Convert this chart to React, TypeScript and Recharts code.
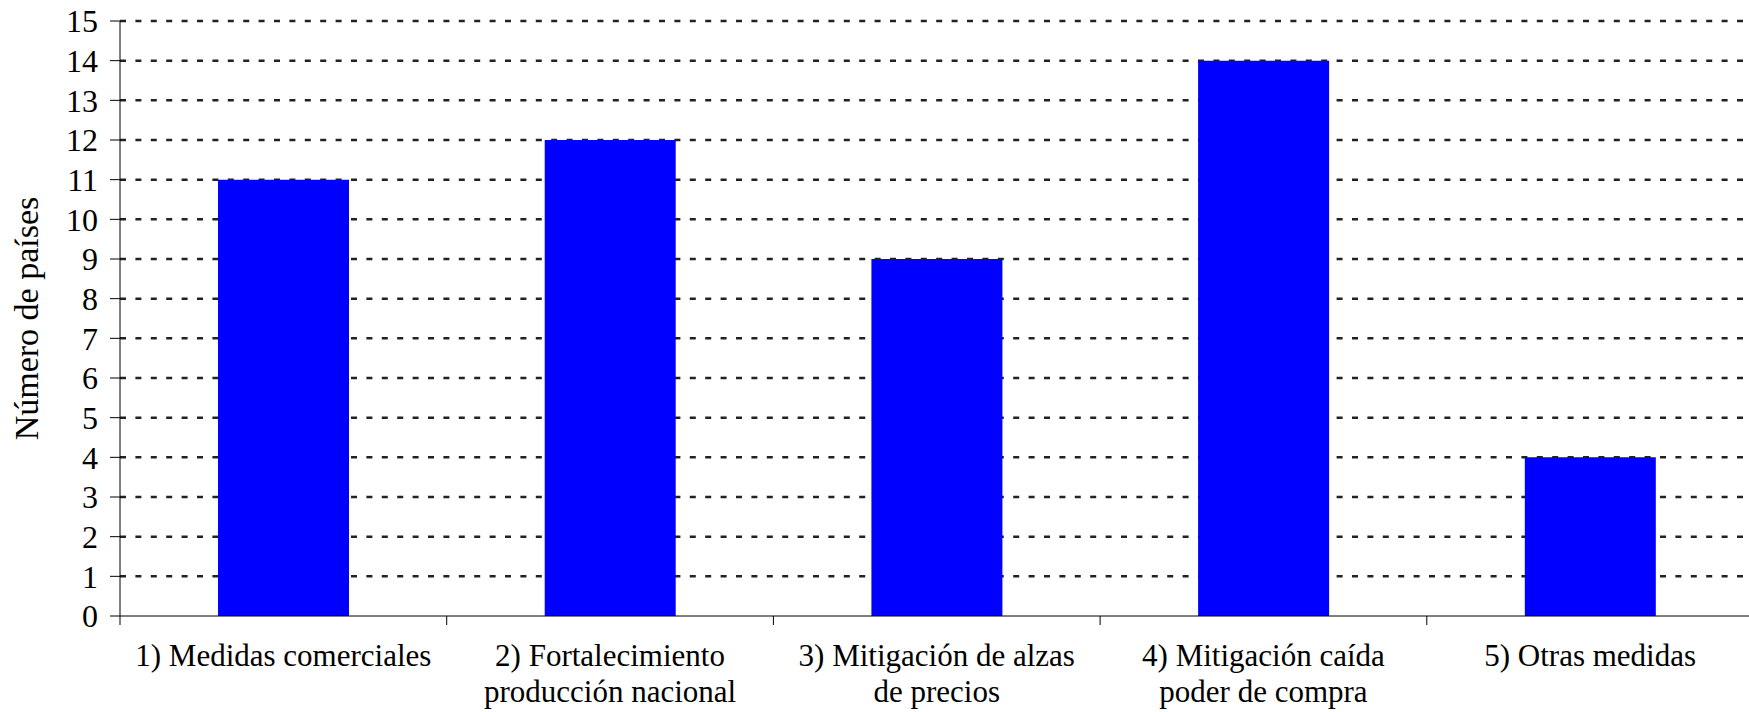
import { BarChart, Bar, XAxis, YAxis, CartesianGrid } from "recharts";

const categories = [
  "1) Medidas comerciales",
  "2) Fortalecimiento\nproducción nacional",
  "3) Mitigación de alzas\nde precios",
  "4) Mitigación caída\npoder de compra",
  "5) Otras medidas",
];
const countries = [11, 12, 9, 14, 4];
const yTicks = [0, 1, 2, 3, 4, 5, 6, 7, 8, 9, 10, 11, 12, 13, 14, 15];
const gridValues = yTicks.slice(1);

const data = categories.map((name, i) => ({ name, value: countries[i] }));

const FONT = "'Liberation Serif', 'Times New Roman', Times, 'DejaVu Serif', serif";
const CHART_W = 1760;
const CHART_H = 712;
const MARGIN = { top: 21, right: 6.5, left: 20, bottom: 6 };
const Y_AXIS_W = 100;
const BAND = (CHART_W - MARGIN.left - MARGIN.right - Y_AXIS_W) / categories.length;

function CategoryTick(props: any) {
  const { x, y, payload, index } = props;
  const lines = String(payload.value).split("\n");
  const half = BAND / 2;
  return (
    <g>
      <line x1={x - half} y1={y} x2={x - half} y2={y + 9} stroke="#000" strokeWidth={1} />
      {index === categories.length - 1 && (
        <line x1={x + half} y1={y} x2={x + half} y2={y + 9} stroke="#000" strokeWidth={1} />
      )}
      <text x={x} y={y + 50} textAnchor="middle" fontFamily={FONT} fontSize={31} fill="#000">
        {lines.map((l, i) => (
          <tspan key={i} x={x} dy={i === 0 ? 0 : 36}>
            {l}
          </tspan>
        ))}
      </text>
    </g>
  );
}

function YLabel(props: any) {
  const { viewBox } = props;
  const cy = viewBox.y + viewBox.height / 2;
  const bx = 38;
  return (
    <text
      x={bx}
      y={cy}
      transform={`rotate(-90, ${bx}, ${cy})`}
      textAnchor="middle"
      fontFamily={FONT}
      fontSize={34}
      fill="#000"
    >
      Número de países
    </text>
  );
}

export default function App() {
  return (
    <div
      style={{
        position: "fixed",
        left: 0,
        top: 0,
        width: 1749,
        height: 712,
        overflow: "hidden",
        background: "#fff",
      }}
    >
      <BarChart width={CHART_W} height={CHART_H} data={data} margin={MARGIN} barCategoryGap="30%">
        <CartesianGrid
          vertical={false}
          horizontalValues={gridValues}
          stroke="#222"
          strokeWidth={2.5}
          strokeDasharray="6 9.4"
        />
        <XAxis
          dataKey="name"
          height={90}
          tickSize={0}
          tickMargin={0}
          tickLine={false}
          interval={0}
          axisLine={{ stroke: "#000", strokeWidth: 1 }}
          tick={<CategoryTick />}
        />
        <YAxis
          width={Y_AXIS_W}
          domain={[0, 15]}
          ticks={yTicks}
          interval={0}
          tickSize={10}
          tickMargin={12}
          axisLine={{ stroke: "#000", strokeWidth: 1 }}
          tickLine={{ stroke: "#000", strokeWidth: 1 }}
          tick={{ fill: "#000", fontSize: 32, fontFamily: FONT }}
          label={<YLabel />}
        />
        <Bar dataKey="value" fill="#0000FF" isAnimationActive={false} />
      </BarChart>
    </div>
  );
}
